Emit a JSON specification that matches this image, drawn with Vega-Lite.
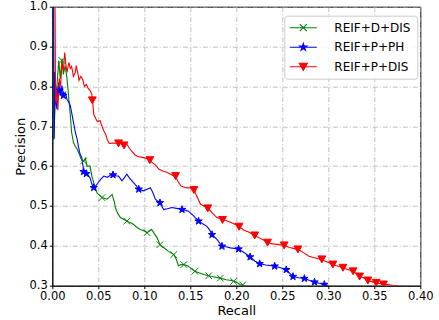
{
  "$schema": "https://vega.github.io/schema/vega-lite/v6.json",
  "width": 368,
  "height": 279,
  "autosize": {"type": "none"},
  "padding": {"left": 52.3, "top": 6.7, "right": 18.7, "bottom": 34.3},
  "background": "white",
  "config": {
    "font": "DejaVu Sans",
    "view": {"stroke": "black", "strokeWidth": 1},
    "axis": {
      "domainColor": "black",
      "tickColor": "black",
      "tickSize": 3,
      "labelPadding": 2,
      "labelFlush": false,
      "labelOverlap": false,
      "labelFont": "DejaVu Sans",
      "labelFontSize": 11.5,
      "labelColor": "black",
      "titleFont": "DejaVu Sans",
      "titleFontSize": 13,
      "titleFontWeight": "normal",
      "titleColor": "black",
      "gridColor": "#b0b0b0",
      "gridDash": [5, 2, 1, 2],
      "gridWidth": 0.8
    },
    "legend": {
      "padding": 6,
      "strokeColor": "#cccccc",
      "fillColor": "rgba(255,255,255,0.85)",
      "cornerRadius": 3,
      "labelFont": "DejaVu Sans",
      "labelFontSize": 12,
      "labelColor": "black",
      "symbolSize": 100,
      "symbolStrokeWidth": 1.1,
      "symbolOffset": 7,
      "labelOffset": 25,
      "rowPadding": 7.5
    }
  },
  "resolve": {"scale": {"color": "independent", "fill": "independent", "shape": "independent"}},
  "datasets": {
    "curves": [
      {"series": "REIF+D+DIS", "recall": 0.001, "precision": 1.0},
      {"series": "REIF+D+DIS", "recall": 0.0015, "precision": 0.667},
      {"series": "REIF+D+DIS", "recall": 0.003, "precision": 0.75},
      {"series": "REIF+D+DIS", "recall": 0.005, "precision": 0.8},
      {"series": "REIF+D+DIS", "recall": 0.007, "precision": 0.865},
      {"series": "REIF+D+DIS", "recall": 0.0087, "precision": 0.819},
      {"series": "REIF+D+DIS", "recall": 0.0105, "precision": 0.869},
      {"series": "REIF+D+DIS", "recall": 0.012, "precision": 0.83},
      {"series": "REIF+D+DIS", "recall": 0.014, "precision": 0.852},
      {"series": "REIF+D+DIS", "recall": 0.016, "precision": 0.819},
      {"series": "REIF+D+DIS", "recall": 0.018, "precision": 0.769},
      {"series": "REIF+D+DIS", "recall": 0.0196, "precision": 0.726},
      {"series": "REIF+D+DIS", "recall": 0.021, "precision": 0.685},
      {"series": "REIF+D+DIS", "recall": 0.023, "precision": 0.659},
      {"series": "REIF+D+DIS", "recall": 0.025, "precision": 0.65},
      {"series": "REIF+D+DIS", "recall": 0.027, "precision": 0.643},
      {"series": "REIF+D+DIS", "recall": 0.03, "precision": 0.626},
      {"series": "REIF+D+DIS", "recall": 0.032, "precision": 0.615},
      {"series": "REIF+D+DIS", "recall": 0.034, "precision": 0.613},
      {"series": "REIF+D+DIS", "recall": 0.036, "precision": 0.62},
      {"series": "REIF+D+DIS", "recall": 0.0377, "precision": 0.6},
      {"series": "REIF+D+DIS", "recall": 0.041, "precision": 0.6},
      {"series": "REIF+D+DIS", "recall": 0.043, "precision": 0.575},
      {"series": "REIF+D+DIS", "recall": 0.045, "precision": 0.559},
      {"series": "REIF+D+DIS", "recall": 0.0486, "precision": 0.533},
      {"series": "REIF+D+DIS", "recall": 0.051, "precision": 0.528},
      {"series": "REIF+D+DIS", "recall": 0.054, "precision": 0.521},
      {"series": "REIF+D+DIS", "recall": 0.0594, "precision": 0.517},
      {"series": "REIF+D+DIS", "recall": 0.062, "precision": 0.522},
      {"series": "REIF+D+DIS", "recall": 0.065, "precision": 0.529},
      {"series": "REIF+D+DIS", "recall": 0.0675, "precision": 0.51},
      {"series": "REIF+D+DIS", "recall": 0.0685, "precision": 0.496},
      {"series": "REIF+D+DIS", "recall": 0.071, "precision": 0.482},
      {"series": "REIF+D+DIS", "recall": 0.074, "precision": 0.471},
      {"series": "REIF+D+DIS", "recall": 0.078, "precision": 0.466},
      {"series": "REIF+D+DIS", "recall": 0.081, "precision": 0.462},
      {"series": "REIF+D+DIS", "recall": 0.085, "precision": 0.458},
      {"series": "REIF+D+DIS", "recall": 0.088, "precision": 0.454},
      {"series": "REIF+D+DIS", "recall": 0.092, "precision": 0.446},
      {"series": "REIF+D+DIS", "recall": 0.0957, "precision": 0.441},
      {"series": "REIF+D+DIS", "recall": 0.1, "precision": 0.437},
      {"series": "REIF+D+DIS", "recall": 0.103, "precision": 0.433},
      {"series": "REIF+D+DIS", "recall": 0.106, "precision": 0.438},
      {"series": "REIF+D+DIS", "recall": 0.108, "precision": 0.441},
      {"series": "REIF+D+DIS", "recall": 0.111, "precision": 0.43},
      {"series": "REIF+D+DIS", "recall": 0.114, "precision": 0.42},
      {"series": "REIF+D+DIS", "recall": 0.117, "precision": 0.403},
      {"series": "REIF+D+DIS", "recall": 0.122, "precision": 0.394},
      {"series": "REIF+D+DIS", "recall": 0.1264, "precision": 0.386},
      {"series": "REIF+D+DIS", "recall": 0.132, "precision": 0.378},
      {"series": "REIF+D+DIS", "recall": 0.135, "precision": 0.365},
      {"series": "REIF+D+DIS", "recall": 0.137, "precision": 0.35},
      {"series": "REIF+D+DIS", "recall": 0.14, "precision": 0.353},
      {"series": "REIF+D+DIS", "recall": 0.143, "precision": 0.353},
      {"series": "REIF+D+DIS", "recall": 0.148, "precision": 0.349},
      {"series": "REIF+D+DIS", "recall": 0.151, "precision": 0.343},
      {"series": "REIF+D+DIS", "recall": 0.155, "precision": 0.336},
      {"series": "REIF+D+DIS", "recall": 0.16, "precision": 0.332},
      {"series": "REIF+D+DIS", "recall": 0.1645, "precision": 0.328},
      {"series": "REIF+D+DIS", "recall": 0.17, "precision": 0.325},
      {"series": "REIF+D+DIS", "recall": 0.176, "precision": 0.322},
      {"series": "REIF+D+DIS", "recall": 0.1826, "precision": 0.319},
      {"series": "REIF+D+DIS", "recall": 0.189, "precision": 0.315},
      {"series": "REIF+D+DIS", "recall": 0.195, "precision": 0.313},
      {"series": "REIF+D+DIS", "recall": 0.2, "precision": 0.309},
      {"series": "REIF+D+DIS", "recall": 0.204, "precision": 0.303},
      {"series": "REIF+D+DIS", "recall": 0.21, "precision": 0.3},

      {"series": "REIF+P+PH", "recall": 0.0015, "precision": 1.0},
      {"series": "REIF+P+PH", "recall": 0.002, "precision": 0.668},
      {"series": "REIF+P+PH", "recall": 0.003, "precision": 0.836},
      {"series": "REIF+P+PH", "recall": 0.004, "precision": 0.76},
      {"series": "REIF+P+PH", "recall": 0.005, "precision": 0.743},
      {"series": "REIF+P+PH", "recall": 0.006, "precision": 0.79},
      {"series": "REIF+P+PH", "recall": 0.007, "precision": 0.81},
      {"series": "REIF+P+PH", "recall": 0.0085, "precision": 0.777},
      {"series": "REIF+P+PH", "recall": 0.0105, "precision": 0.802},
      {"series": "REIF+P+PH", "recall": 0.012, "precision": 0.777},
      {"series": "REIF+P+PH", "recall": 0.014, "precision": 0.785},
      {"series": "REIF+P+PH", "recall": 0.016, "precision": 0.768},
      {"series": "REIF+P+PH", "recall": 0.018, "precision": 0.76},
      {"series": "REIF+P+PH", "recall": 0.0196, "precision": 0.752},
      {"series": "REIF+P+PH", "recall": 0.021, "precision": 0.735},
      {"series": "REIF+P+PH", "recall": 0.023, "precision": 0.71},
      {"series": "REIF+P+PH", "recall": 0.025, "precision": 0.685},
      {"series": "REIF+P+PH", "recall": 0.027, "precision": 0.668},
      {"series": "REIF+P+PH", "recall": 0.0286, "precision": 0.647},
      {"series": "REIF+P+PH", "recall": 0.03, "precision": 0.632},
      {"series": "REIF+P+PH", "recall": 0.032, "precision": 0.622},
      {"series": "REIF+P+PH", "recall": 0.034, "precision": 0.59},
      {"series": "REIF+P+PH", "recall": 0.036, "precision": 0.582},
      {"series": "REIF+P+PH", "recall": 0.038, "precision": 0.58},
      {"series": "REIF+P+PH", "recall": 0.041, "precision": 0.571},
      {"series": "REIF+P+PH", "recall": 0.043, "precision": 0.555},
      {"series": "REIF+P+PH", "recall": 0.045, "precision": 0.546},
      {"series": "REIF+P+PH", "recall": 0.047, "precision": 0.55},
      {"series": "REIF+P+PH", "recall": 0.05, "precision": 0.559},
      {"series": "REIF+P+PH", "recall": 0.053, "precision": 0.568},
      {"series": "REIF+P+PH", "recall": 0.056, "precision": 0.575},
      {"series": "REIF+P+PH", "recall": 0.06, "precision": 0.572},
      {"series": "REIF+P+PH", "recall": 0.065, "precision": 0.58},
      {"series": "REIF+P+PH", "recall": 0.069, "precision": 0.576},
      {"series": "REIF+P+PH", "recall": 0.072, "precision": 0.575},
      {"series": "REIF+P+PH", "recall": 0.0757, "precision": 0.563},
      {"series": "REIF+P+PH", "recall": 0.078, "precision": 0.57},
      {"series": "REIF+P+PH", "recall": 0.081, "precision": 0.58},
      {"series": "REIF+P+PH", "recall": 0.084, "precision": 0.57},
      {"series": "REIF+P+PH", "recall": 0.088, "precision": 0.559},
      {"series": "REIF+P+PH", "recall": 0.091, "precision": 0.552},
      {"series": "REIF+P+PH", "recall": 0.094, "precision": 0.542},
      {"series": "REIF+P+PH", "recall": 0.099, "precision": 0.538},
      {"series": "REIF+P+PH", "recall": 0.103, "precision": 0.542},
      {"series": "REIF+P+PH", "recall": 0.1065, "precision": 0.546},
      {"series": "REIF+P+PH", "recall": 0.109, "precision": 0.535},
      {"series": "REIF+P+PH", "recall": 0.112, "precision": 0.517},
      {"series": "REIF+P+PH", "recall": 0.117, "precision": 0.508},
      {"series": "REIF+P+PH", "recall": 0.121, "precision": 0.491},
      {"series": "REIF+P+PH", "recall": 0.125, "precision": 0.493},
      {"series": "REIF+P+PH", "recall": 0.13, "precision": 0.496},
      {"series": "REIF+P+PH", "recall": 0.135, "precision": 0.494},
      {"series": "REIF+P+PH", "recall": 0.141, "precision": 0.491},
      {"series": "REIF+P+PH", "recall": 0.145, "precision": 0.489},
      {"series": "REIF+P+PH", "recall": 0.148, "precision": 0.487},
      {"series": "REIF+P+PH", "recall": 0.1536, "precision": 0.475},
      {"series": "REIF+P+PH", "recall": 0.159, "precision": 0.462},
      {"series": "REIF+P+PH", "recall": 0.163, "precision": 0.456},
      {"series": "REIF+P+PH", "recall": 0.168, "precision": 0.449},
      {"series": "REIF+P+PH", "recall": 0.171, "precision": 0.44},
      {"series": "REIF+P+PH", "recall": 0.1736, "precision": 0.428},
      {"series": "REIF+P+PH", "recall": 0.179, "precision": 0.416},
      {"series": "REIF+P+PH", "recall": 0.1844, "precision": 0.399},
      {"series": "REIF+P+PH", "recall": 0.19, "precision": 0.397},
      {"series": "REIF+P+PH", "recall": 0.1935, "precision": 0.395},
      {"series": "REIF+P+PH", "recall": 0.2025, "precision": 0.392},
      {"series": "REIF+P+PH", "recall": 0.208, "precision": 0.384},
      {"series": "REIF+P+PH", "recall": 0.215, "precision": 0.372},
      {"series": "REIF+P+PH", "recall": 0.22, "precision": 0.362},
      {"series": "REIF+P+PH", "recall": 0.2254, "precision": 0.355},
      {"series": "REIF+P+PH", "recall": 0.232, "precision": 0.352},
      {"series": "REIF+P+PH", "recall": 0.2417, "precision": 0.349},
      {"series": "REIF+P+PH", "recall": 0.248, "precision": 0.345},
      {"series": "REIF+P+PH", "recall": 0.2543, "precision": 0.34},
      {"series": "REIF+P+PH", "recall": 0.2616, "precision": 0.323},
      {"series": "REIF+P+PH", "recall": 0.268, "precision": 0.32},
      {"series": "REIF+P+PH", "recall": 0.274, "precision": 0.318},
      {"series": "REIF+P+PH", "recall": 0.28, "precision": 0.313},
      {"series": "REIF+P+PH", "recall": 0.285, "precision": 0.309},
      {"series": "REIF+P+PH", "recall": 0.29, "precision": 0.306},
      {"series": "REIF+P+PH", "recall": 0.2957, "precision": 0.303},
      {"series": "REIF+P+PH", "recall": 0.3, "precision": 0.3},

      {"series": "REIF+P+DIS", "recall": 0.003, "precision": 1.0},
      {"series": "REIF+P+DIS", "recall": 0.0035, "precision": 0.76},
      {"series": "REIF+P+DIS", "recall": 0.005, "precision": 0.8},
      {"series": "REIF+P+DIS", "recall": 0.006, "precision": 0.74},
      {"series": "REIF+P+DIS", "recall": 0.0075, "precision": 0.82},
      {"series": "REIF+P+DIS", "recall": 0.009, "precision": 0.8},
      {"series": "REIF+P+DIS", "recall": 0.0105, "precision": 0.86},
      {"series": "REIF+P+DIS", "recall": 0.012, "precision": 0.84},
      {"series": "REIF+P+DIS", "recall": 0.0135, "precision": 0.885},
      {"series": "REIF+P+DIS", "recall": 0.015, "precision": 0.85},
      {"series": "REIF+P+DIS", "recall": 0.016, "precision": 0.835},
      {"series": "REIF+P+DIS", "recall": 0.018, "precision": 0.86},
      {"series": "REIF+P+DIS", "recall": 0.0196, "precision": 0.845},
      {"series": "REIF+P+DIS", "recall": 0.021, "precision": 0.85},
      {"series": "REIF+P+DIS", "recall": 0.023, "precision": 0.825},
      {"series": "REIF+P+DIS", "recall": 0.025, "precision": 0.835},
      {"series": "REIF+P+DIS", "recall": 0.026, "precision": 0.852},
      {"series": "REIF+P+DIS", "recall": 0.028, "precision": 0.83},
      {"series": "REIF+P+DIS", "recall": 0.029, "precision": 0.815},
      {"series": "REIF+P+DIS", "recall": 0.031, "precision": 0.825},
      {"series": "REIF+P+DIS", "recall": 0.033, "precision": 0.818},
      {"series": "REIF+P+DIS", "recall": 0.035, "precision": 0.8},
      {"series": "REIF+P+DIS", "recall": 0.037, "precision": 0.805},
      {"series": "REIF+P+DIS", "recall": 0.039, "precision": 0.795},
      {"series": "REIF+P+DIS", "recall": 0.041, "precision": 0.79},
      {"series": "REIF+P+DIS", "recall": 0.043, "precision": 0.78},
      {"series": "REIF+P+DIS", "recall": 0.044, "precision": 0.76},
      {"series": "REIF+P+DIS", "recall": 0.045, "precision": 0.73},
      {"series": "REIF+P+DIS", "recall": 0.047, "precision": 0.72},
      {"series": "REIF+P+DIS", "recall": 0.049, "precision": 0.712},
      {"series": "REIF+P+DIS", "recall": 0.052, "precision": 0.714},
      {"series": "REIF+P+DIS", "recall": 0.054, "precision": 0.7},
      {"series": "REIF+P+DIS", "recall": 0.056, "precision": 0.688},
      {"series": "REIF+P+DIS", "recall": 0.058, "precision": 0.68},
      {"series": "REIF+P+DIS", "recall": 0.06, "precision": 0.665},
      {"series": "REIF+P+DIS", "recall": 0.062, "precision": 0.657},
      {"series": "REIF+P+DIS", "recall": 0.068, "precision": 0.658},
      {"series": "REIF+P+DIS", "recall": 0.072, "precision": 0.655},
      {"series": "REIF+P+DIS", "recall": 0.075, "precision": 0.66},
      {"series": "REIF+P+DIS", "recall": 0.078, "precision": 0.652},
      {"series": "REIF+P+DIS", "recall": 0.081, "precision": 0.655},
      {"series": "REIF+P+DIS", "recall": 0.083, "precision": 0.648},
      {"series": "REIF+P+DIS", "recall": 0.086, "precision": 0.638},
      {"series": "REIF+P+DIS", "recall": 0.09, "precision": 0.628},
      {"series": "REIF+P+DIS", "recall": 0.093, "precision": 0.624},
      {"series": "REIF+P+DIS", "recall": 0.098, "precision": 0.622},
      {"series": "REIF+P+DIS", "recall": 0.104, "precision": 0.618},
      {"series": "REIF+P+DIS", "recall": 0.108, "precision": 0.61},
      {"series": "REIF+P+DIS", "recall": 0.112, "precision": 0.603},
      {"series": "REIF+P+DIS", "recall": 0.116, "precision": 0.592},
      {"series": "REIF+P+DIS", "recall": 0.12, "precision": 0.588},
      {"series": "REIF+P+DIS", "recall": 0.125, "precision": 0.584},
      {"series": "REIF+P+DIS", "recall": 0.13, "precision": 0.578},
      {"series": "REIF+P+DIS", "recall": 0.134, "precision": 0.573},
      {"series": "REIF+P+DIS", "recall": 0.137, "precision": 0.56},
      {"series": "REIF+P+DIS", "recall": 0.14, "precision": 0.55},
      {"series": "REIF+P+DIS", "recall": 0.145, "precision": 0.546},
      {"series": "REIF+P+DIS", "recall": 0.15, "precision": 0.545},
      {"series": "REIF+P+DIS", "recall": 0.154, "precision": 0.54},
      {"series": "REIF+P+DIS", "recall": 0.157, "precision": 0.525},
      {"series": "REIF+P+DIS", "recall": 0.161, "precision": 0.505},
      {"series": "REIF+P+DIS", "recall": 0.166, "precision": 0.498},
      {"series": "REIF+P+DIS", "recall": 0.17, "precision": 0.493},
      {"series": "REIF+P+DIS", "recall": 0.174, "precision": 0.482},
      {"series": "REIF+P+DIS", "recall": 0.179, "precision": 0.471},
      {"series": "REIF+P+DIS", "recall": 0.183, "precision": 0.468},
      {"series": "REIF+P+DIS", "recall": 0.188, "precision": 0.464},
      {"series": "REIF+P+DIS", "recall": 0.193, "precision": 0.46},
      {"series": "REIF+P+DIS", "recall": 0.198, "precision": 0.455},
      {"series": "REIF+P+DIS", "recall": 0.203, "precision": 0.448},
      {"series": "REIF+P+DIS", "recall": 0.208, "precision": 0.44},
      {"series": "REIF+P+DIS", "recall": 0.214, "precision": 0.434},
      {"series": "REIF+P+DIS", "recall": 0.22, "precision": 0.426},
      {"series": "REIF+P+DIS", "recall": 0.225, "precision": 0.42},
      {"series": "REIF+P+DIS", "recall": 0.23, "precision": 0.414},
      {"series": "REIF+P+DIS", "recall": 0.235, "precision": 0.407},
      {"series": "REIF+P+DIS", "recall": 0.24, "precision": 0.405},
      {"series": "REIF+P+DIS", "recall": 0.247, "precision": 0.403},
      {"series": "REIF+P+DIS", "recall": 0.253, "precision": 0.4},
      {"series": "REIF+P+DIS", "recall": 0.258, "precision": 0.396},
      {"series": "REIF+P+DIS", "recall": 0.263, "precision": 0.393},
      {"series": "REIF+P+DIS", "recall": 0.268, "precision": 0.39},
      {"series": "REIF+P+DIS", "recall": 0.273, "precision": 0.383},
      {"series": "REIF+P+DIS", "recall": 0.279, "precision": 0.374},
      {"series": "REIF+P+DIS", "recall": 0.285, "precision": 0.37},
      {"series": "REIF+P+DIS", "recall": 0.293, "precision": 0.365},
      {"series": "REIF+P+DIS", "recall": 0.3, "precision": 0.358},
      {"series": "REIF+P+DIS", "recall": 0.306, "precision": 0.352},
      {"series": "REIF+P+DIS", "recall": 0.312, "precision": 0.348},
      {"series": "REIF+P+DIS", "recall": 0.317, "precision": 0.344},
      {"series": "REIF+P+DIS", "recall": 0.322, "precision": 0.34},
      {"series": "REIF+P+DIS", "recall": 0.3275, "precision": 0.335},
      {"series": "REIF+P+DIS", "recall": 0.332, "precision": 0.328},
      {"series": "REIF+P+DIS", "recall": 0.336, "precision": 0.322},
      {"series": "REIF+P+DIS", "recall": 0.34, "precision": 0.318},
      {"series": "REIF+P+DIS", "recall": 0.344, "precision": 0.312},
      {"series": "REIF+P+DIS", "recall": 0.349, "precision": 0.309},
      {"series": "REIF+P+DIS", "recall": 0.353, "precision": 0.306},
      {"series": "REIF+P+DIS", "recall": 0.358, "precision": 0.305},
      {"series": "REIF+P+DIS", "recall": 0.364, "precision": 0.303},
      {"series": "REIF+P+DIS", "recall": 0.37, "precision": 0.301},
      {"series": "REIF+P+DIS", "recall": 0.376, "precision": 0.3}
    ],
    "markers": [
      {"series": "REIF+D+DIS", "recall": 0.0105, "precision": 0.865},
      {"series": "REIF+D+DIS", "recall": 0.034, "precision": 0.613},
      {"series": "REIF+D+DIS", "recall": 0.054, "precision": 0.521},
      {"series": "REIF+D+DIS", "recall": 0.081, "precision": 0.462},
      {"series": "REIF+D+DIS", "recall": 0.103, "precision": 0.433},
      {"series": "REIF+D+DIS", "recall": 0.117, "precision": 0.403},
      {"series": "REIF+D+DIS", "recall": 0.132, "precision": 0.378},
      {"series": "REIF+D+DIS", "recall": 0.143, "precision": 0.353},
      {"series": "REIF+D+DIS", "recall": 0.155, "precision": 0.336},
      {"series": "REIF+D+DIS", "recall": 0.17, "precision": 0.325},
      {"series": "REIF+D+DIS", "recall": 0.1826, "precision": 0.319},
      {"series": "REIF+D+DIS", "recall": 0.197, "precision": 0.311},
      {"series": "REIF+D+DIS", "recall": 0.207, "precision": 0.302},
      {"series": "REIF+P+PH", "recall": 0.008, "precision": 0.79},
      {"series": "REIF+P+PH", "recall": 0.012, "precision": 0.777},
      {"series": "REIF+P+PH", "recall": 0.034, "precision": 0.586},
      {"series": "REIF+P+PH", "recall": 0.037, "precision": 0.581},
      {"series": "REIF+P+PH", "recall": 0.045, "precision": 0.546},
      {"series": "REIF+P+PH", "recall": 0.066, "precision": 0.578},
      {"series": "REIF+P+PH", "recall": 0.094, "precision": 0.542},
      {"series": "REIF+P+PH", "recall": 0.117, "precision": 0.508},
      {"series": "REIF+P+PH", "recall": 0.141, "precision": 0.491},
      {"series": "REIF+P+PH", "recall": 0.159, "precision": 0.462},
      {"series": "REIF+P+PH", "recall": 0.1736, "precision": 0.428},
      {"series": "REIF+P+PH", "recall": 0.1844, "precision": 0.399},
      {"series": "REIF+P+PH", "recall": 0.2025, "precision": 0.392},
      {"series": "REIF+P+PH", "recall": 0.215, "precision": 0.372},
      {"series": "REIF+P+PH", "recall": 0.2254, "precision": 0.355},
      {"series": "REIF+P+PH", "recall": 0.2417, "precision": 0.349},
      {"series": "REIF+P+PH", "recall": 0.2543, "precision": 0.34},
      {"series": "REIF+P+PH", "recall": 0.2616, "precision": 0.323},
      {"series": "REIF+P+PH", "recall": 0.274, "precision": 0.318},
      {"series": "REIF+P+PH", "recall": 0.285, "precision": 0.309},
      {"series": "REIF+P+PH", "recall": 0.2957, "precision": 0.303},
      {"series": "REIF+P+DIS", "recall": 0.0435, "precision": 0.765},
      {"series": "REIF+P+DIS", "recall": 0.072, "precision": 0.657},
      {"series": "REIF+P+DIS", "recall": 0.078, "precision": 0.652},
      {"series": "REIF+P+DIS", "recall": 0.106, "precision": 0.615},
      {"series": "REIF+P+DIS", "recall": 0.134, "precision": 0.575},
      {"series": "REIF+P+DIS", "recall": 0.154, "precision": 0.54},
      {"series": "REIF+P+DIS", "recall": 0.169, "precision": 0.494},
      {"series": "REIF+P+DIS", "recall": 0.185, "precision": 0.465},
      {"series": "REIF+P+DIS", "recall": 0.203, "precision": 0.448},
      {"series": "REIF+P+DIS", "recall": 0.22, "precision": 0.426},
      {"series": "REIF+P+DIS", "recall": 0.234, "precision": 0.408},
      {"series": "REIF+P+DIS", "recall": 0.252, "precision": 0.401},
      {"series": "REIF+P+DIS", "recall": 0.267, "precision": 0.391},
      {"series": "REIF+P+DIS", "recall": 0.293, "precision": 0.366},
      {"series": "REIF+P+DIS", "recall": 0.305, "precision": 0.353},
      {"series": "REIF+P+DIS", "recall": 0.316, "precision": 0.345},
      {"series": "REIF+P+DIS", "recall": 0.327, "precision": 0.336},
      {"series": "REIF+P+DIS", "recall": 0.334, "precision": 0.323},
      {"series": "REIF+P+DIS", "recall": 0.343, "precision": 0.313},
      {"series": "REIF+P+DIS", "recall": 0.352, "precision": 0.307},
      {"series": "REIF+P+DIS", "recall": 0.36, "precision": 0.303}
    ]
  },
  "encoding": {
    "x": {
      "field": "recall", "type": "quantitative", "title": "Recall",
      "scale": {"domain": [0, 0.4], "nice": false, "zero": false},
      "axis": {"values": [0, 0.05, 0.1, 0.15, 0.2, 0.25, 0.3, 0.35, 0.4], "format": ".2f", "titlePadding": 2}
    },
    "y": {
      "field": "precision", "type": "quantitative", "title": "Precision",
      "scale": {"domain": [0.3, 1.0], "nice": false, "zero": false},
      "axis": {"values": [0.3, 0.4, 0.5, 0.6, 0.7, 0.8, 0.9, 1.0], "format": ".1f", "titlePadding": 2}
    }
  },
  "layer": [
    {
      "data": {"name": "curves"},
      "mark": {"type": "line", "strokeWidth": 1.1, "clip": true, "interpolate": "linear"},
      "encoding": {
        "color": {
          "field": "series", "type": "nominal", "legend": null,
          "scale": {"domain": ["REIF+D+DIS", "REIF+P+PH", "REIF+P+DIS"], "range": ["#008000", "#0000ff", "#ff0000"]}
        },
        "detail": {"field": "series"}
      }
    },
    {
      "data": {"name": "markers"},
      "mark": {"type": "point", "filled": false, "size": 60, "strokeWidth": 1, "opacity": 1, "clip": true},
      "encoding": {
        "color": {
          "field": "series", "type": "nominal", "legend": null,
          "scale": {"domain": ["REIF+D+DIS", "REIF+P+PH", "REIF+P+DIS"], "range": ["#008000", "#0000ff", "#ff0000"]}
        },
        "fill": {
          "field": "series", "type": "nominal", "legend": null,
          "scale": {"domain": ["REIF+D+DIS", "REIF+P+PH", "REIF+P+DIS"], "range": ["#008000", "#0000ff", "#ff0000"]}
        },
        "shape": {
          "field": "series", "type": "nominal", "legend": null,
          "scale": {
            "domain": ["REIF+D+DIS", "REIF+P+PH", "REIF+P+DIS"],
            "range": [
              "M-0.85,-0.85L0.85,0.85M-0.85,0.85L0.85,-0.85",
              "M0,-1L0.2245,-0.309L0.951,-0.309L0.363,0.118L0.588,0.809L0,0.382L-0.588,0.809L-0.363,0.118L-0.951,-0.309L-0.2245,-0.309Z",
              "M-1,-0.9L1,-0.9L0,0.9Z"
            ]
          }
        }
      }
    },
    {
      "data": {"name": "markers"},
      "transform": [{"filter": "false"}],
      "mark": {"type": "point", "filled": false, "strokeWidth": 1.1, "opacity": 1},
      "encoding": {
        "color": {
          "field": "series", "type": "nominal",
          "scale": {"domain": ["REIF+D+DIS", "REIF+P+PH", "REIF+P+DIS"], "range": ["#008000", "#0000ff", "#ff0000"]},
          "legend": {"title": null, "orient": "none", "legendX": 232, "legendY": 9}
        },
        "fill": {
          "field": "series", "type": "nominal",
          "scale": {"domain": ["REIF+D+DIS", "REIF+P+PH", "REIF+P+DIS"], "range": ["#008000", "#0000ff", "#ff0000"]},
          "legend": {"title": null, "orient": "none", "legendX": 232, "legendY": 9}
        },
        "shape": {
          "field": "series", "type": "nominal",
          "scale": {
            "domain": ["REIF+D+DIS", "REIF+P+PH", "REIF+P+DIS"],
            "range": [
              "M-2.7,0L2.7,0M-0.7,-0.7L0.7,0.7M-0.7,0.7L0.7,-0.7",
              "M-2.7,0L2.7,0M0,-0.75L0.168,-0.232L0.713,-0.232L0.272,0.089L0.441,0.607L0,0.287L-0.441,0.607L-0.272,0.089L-0.713,-0.232L-0.168,-0.232Z",
              "M-2.7,0L2.7,0M-0.8,-0.7L0.8,-0.7L0,0.75Z"
            ]
          },
          "legend": {"title": null, "orient": "none", "legendX": 232, "legendY": 9}
        }
      }
    }
  ]
}
